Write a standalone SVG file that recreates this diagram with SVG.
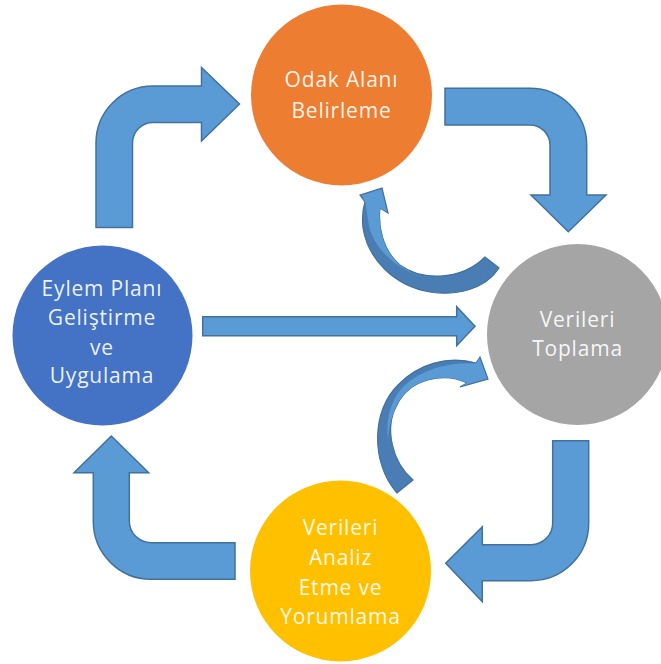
<svg xmlns="http://www.w3.org/2000/svg" width="661" height="664" viewBox="0 0 661 664">
<style>
.arrow{fill:#5b9bd5;stroke:#41719c;stroke-width:1.5;stroke-linejoin:miter}
.cdark{fill:#4a7db3;stroke:#41719c;stroke-width:1.2}
.clight{fill:#5b9bd5;stroke:none}
.lbl{font-family:"Open Sans","Noto Sans",sans-serif;font-size:21px;fill:#ffffff;fill-opacity:0.92;text-anchor:middle;letter-spacing:0.8px}
</style>
<rect width="661" height="664" fill="#ffffff"/>
<g id="connectors">
  <path class="arrow" d="M96,227.5 L96,143 A57,57 0 0 1 153,86 L201.5,86 L201.5,67.5 L239.5,104 L201.5,141 L201.5,122.5 L153,122.5 A20.5,20.5 0 0 0 132.5,143 L132.5,227.5 Z"/>
  <path class="arrow" d="M445,88.3 L530,88.3 A56.7,56.7 0 0 1 586.7,145 L586.7,195 L606,195 L568.3,231.7 L531,195 L550,195 L550,145 A20,20 0 0 0 530,125 L445,125 Z"/>
  <path class="arrow" d="M552.7,440.7 L588.7,440.7 L588.7,523 A57.7,57.7 0 0 1 531,580.7 L482.3,580.7 L482.3,601.7 L445.7,563.3 L482.3,526.7 L482.3,544.7 L531,544.7 A21.7,21.7 0 0 0 552.7,523 Z"/>
  <path class="arrow" d="M235,542.7 L235,579.3 L151,579.3 A58,58 0 0 1 93.3,521 L93.3,472.7 L74,472.7 L111.3,436 L148.7,472.7 L129.3,472.7 L129.3,521 A21.7,21.7 0 0 0 151,542.7 Z"/>
  <path class="arrow" d="M202.7,316.7 L456.7,316.7 L456.7,306.7 L475,326.2 L456.7,345.7 L456.7,335.7 L202.7,335.7 Z"/>
  <g id="curved-1">
    <path class="cdark" d="M499,268 C485,290 455,296 430,292 C395,286 368,260 363,228 C362,218 363,208 365,202 L360,195 L382,188 L388,213 L380,208 C378,225 382,250 400,265 C420,280 460,282 485,257 Z"/>
    <path class="clight" d="M365.5,202.5 L361.5,195.5 L381.5,189 L387,212 L380,208 C378,225 382,250 400,265 C408,271 416,275 424,278 C400,270 376,252 369.5,228 C367.5,218 366.5,210 365.5,202.5 Z"/>
  </g>
  <g id="curved-2">
    <path class="cdark" d="M397,493 C370,462 372,410 398,385 C418,364 448,355 476,363 L480,357 L488,379 L460,387 L467,383 C445,372 410,378 397,405 C384,428 392,462 413,480 Z"/>
    <path class="clight" d="M476,363.5 L479.5,358 L487,378.5 L461,386 L467,383 C445,372 410,378 397,405 C392,415 389,425 388,440 C386,420 390,400 404,386 C424,368 450,362 476,363.5 Z"/>
  </g>
</g>
<g id="node-odak">
  <circle cx="341.5" cy="95" r="90.5" fill="#ed7d31"/>
  <text class="lbl" x="341.5" y="87">Odak Alanı</text>
  <text class="lbl" x="341.5" y="118">Belirleme</text>
</g>
<g id="node-toplama">
  <circle cx="577.5" cy="334.5" r="90.5" fill="#a5a5a5"/>
  <text class="lbl" x="577.5" y="327">Verileri</text>
  <text class="lbl" x="577.5" y="356">Toplama</text>
</g>
<g id="node-eylem">
  <circle cx="102.5" cy="335.5" r="90" fill="#4472c4"/>
  <text class="lbl" x="102" y="296">Eylem Planı</text>
  <text class="lbl" x="102" y="325">Geliştirme</text>
  <text class="lbl" x="102" y="355">ve</text>
  <text class="lbl" x="102" y="383">Uygulama</text>
</g>
<g id="node-analiz">
  <circle cx="340.5" cy="571" r="90.5" fill="#ffc000"/>
  <text class="lbl" x="340.5" y="535">Verileri</text>
  <text class="lbl" x="340.5" y="565">Analiz</text>
  <text class="lbl" x="340.5" y="595">Etme ve</text>
  <text class="lbl" x="340.5" y="624">Yorumlama</text>
</g>
</svg>
